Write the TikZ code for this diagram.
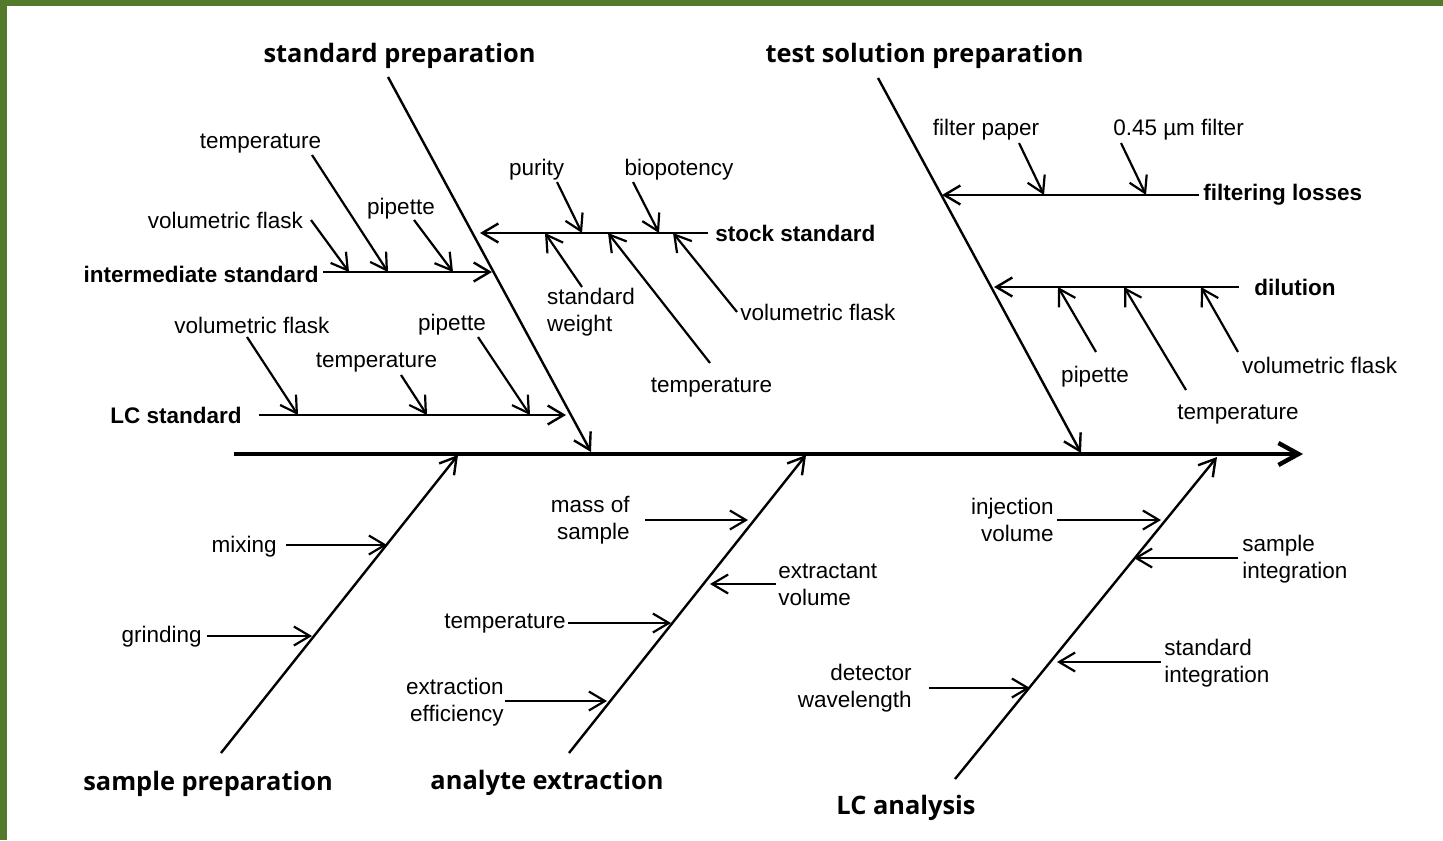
\documentclass[tikz,border=0pt]{standalone}
\usepackage{fontspec}
\setmainfont{Liberation Sans}
\newfontfamily\catfont{Open Sans}
\usetikzlibrary{arrows.meta}
\definecolor{frame}{RGB}{82,122,42}

\begin{document}
\begin{tikzpicture}[x=0.5pt,y=-0.5pt,
  lbl/.style={inner sep=0pt,yshift=-1.5pt,font=\fontsize{11.25pt}{13.5pt}\selectfont},
  sub/.style={inner sep=0pt,yshift=-1.5pt,font=\fontsize{11.25pt}{13.5pt}\selectfont\bfseries},
  cat/.style={inner sep=0pt,yshift=-1.5pt,font=\catfont\bfseries\fontsize{12.7pt}{15pt}\selectfont},
  bone/.style={line width=1.2pt,-{Straight Barb[length=8pt,width=9.5pt]}},
  twig/.style={line width=1.1pt,-{Straight Barb[length=8pt,width=9.5pt]}},
  spine/.style={line width=2.2pt,-{Straight Barb[length=10pt,width=11pt]}},
]
% page and frame
\useasboundingbox (0,0) rectangle (1443,840);
\fill[white] (0,0) rectangle (1443,840);
\fill[frame] (0,0) rectangle (1443,6);
\fill[frame] (0,0) rectangle (7,840);

% ---------- main categories ----------
\node[cat] (stdprep)  at (399.5,53) {standard preparation};
\node[cat] (testprep) at (924.5,53) {test solution preparation};
\node[cat] (sampprep) at (208,781)  {sample preparation};
\node[cat] (anaext)   at (547,780)  {analyte extraction};
\node[cat] (lcana)    at (906,805)  {LC analysis};

% ---------- spine and bones ----------
\coordinate (spA) at (234,454);
\coordinate (spB) at (1303,454);
\draw[spine] (spA) -- (spB);

\coordinate (b1s) at (388,77);   \coordinate (b1e) at (591,452);
\coordinate (b2s) at (878,78);   \coordinate (b2e) at (1081,453);
\coordinate (b3s) at (221,753);  \coordinate (b3e) at (458,455);
\coordinate (b4s) at (569,753);  \coordinate (b4e) at (806,455);
\coordinate (b5s) at (955,779);  \coordinate (b5e) at (1217,457);
\draw[bone] (b1s) -- (b1e);
\draw[bone] (b2s) -- (b2e);
\draw[bone] (b3s) -- (b3e);
\draw[bone] (b4s) -- (b4e);
\draw[bone] (b5s) -- (b5e);

% ---------- standard preparation ----------
\node[sub,anchor=east] (inter) at (319,271) {intermediate standard};
\coordinate (interA) at (323,272); \coordinate (interB) at (492,272);
\draw[bone] (interA) -- (interB);
\node[lbl] (vf1) at (225.5,217) {volumetric flask};
\node[lbl] (t1)  at (260.5,141) {temperature};
\node[lbl] (pp1) at (401,206)   {pipette};
\coordinate (vf1a) at (311,220); \coordinate (vf1b) at (349,272);
\coordinate (t1a)  at (312,155); \coordinate (t1b)  at (388,272);
\coordinate (pp1a) at (414,220); \coordinate (pp1b) at (453,272);
\draw[twig] (vf1a) -- (vf1b);
\draw[twig] (t1a) -- (t1b);
\draw[twig] (pp1a) -- (pp1b);

\node[sub,anchor=east] (lcstd) at (242,412) {LC standard};
\coordinate (lcA) at (259,415); \coordinate (lcB) at (566,415);
\draw[bone] (lcA) -- (lcB);
\node[lbl] (vf2) at (252,322)   {volumetric flask};
\node[lbl] (t2)  at (376.5,360) {temperature};
\node[lbl] (pp2) at (452,322)   {pipette};
\coordinate (vf2a) at (247,337); \coordinate (vf2b) at (298,415);
\coordinate (t2a)  at (401,375); \coordinate (t2b)  at (427,415);
\coordinate (pp2a) at (478,337); \coordinate (pp2b) at (530,415);
\draw[twig] (vf2a) -- (vf2b);
\draw[twig] (t2a) -- (t2b);
\draw[twig] (pp2a) -- (pp2b);

\node[sub,anchor=west] (stock) at (715,230) {stock standard};
\coordinate (stA) at (708,233); \coordinate (stB) at (480,233);
\draw[bone] (stA) -- (stB);
\node[lbl] (pur) at (536.5,167) {purity};
\node[lbl] (bio) at (679,167)   {biopotency};
\node[lbl,align=left] (sw) at (591,309) {standard\\weight};
\node[lbl] (t3) at (711.5,385) {temperature};
\node[lbl,anchor=west] (vf3) at (740,309) {volumetric flask};
\coordinate (pura) at (557,182); \coordinate (purb) at (582,233);
\coordinate (bioa) at (633,182); \coordinate (biob) at (659,233);
\coordinate (swa)  at (582,287); \coordinate (swb)  at (545,233);
\coordinate (t3a)  at (710,363); \coordinate (t3b)  at (608,233);
\coordinate (vf3a) at (737,312); \coordinate (vf3b) at (673,233);
\draw[twig] (pura) -- (purb);
\draw[twig] (bioa) -- (biob);
\draw[twig] (swa) -- (swb);
\draw[twig] (t3a) -- (t3b);
\draw[twig] (vf3a) -- (vf3b);

% ---------- test solution preparation ----------
\node[sub,anchor=west] (filt) at (1203,192) {filtering losses};
\coordinate (fiA) at (1199,195); \coordinate (fiB) at (942,195);
\draw[bone] (fiA) -- (fiB);
\node[lbl] (fp) at (986,127)    {filter paper};
\node[lbl] (mf) at (1178.5,127) {0.45 µm filter};
\coordinate (fpa) at (1019,143); \coordinate (fpb) at (1044,195);
\coordinate (mfa) at (1121,143); \coordinate (mfb) at (1146,195);
\draw[twig] (fpa) -- (fpb);
\draw[twig] (mfa) -- (mfb);

\node[sub] (dil) at (1295,284) {dilution};
\coordinate (diA) at (1239,287); \coordinate (diB) at (994,287);
\draw[bone] (diA) -- (diB);
\node[lbl] (pp4) at (1095,374)   {pipette};
\node[lbl] (t4)  at (1238,412)   {temperature};
\node[lbl] (vf4) at (1319.5,362) {volumetric flask};
\coordinate (pp4a) at (1096,352); \coordinate (pp4b) at (1058,287);
\coordinate (t4a)  at (1186,390); \coordinate (t4b)  at (1124,287);
\coordinate (vf4a) at (1238,352); \coordinate (vf4b) at (1201,287);
\draw[twig] (pp4a) -- (pp4b);
\draw[twig] (t4a) -- (t4b);
\draw[twig] (vf4a) -- (vf4b);

% ---------- sample preparation ----------
\node[lbl,anchor=east] (mix)   at (277,544) {mixing};
\node[lbl,anchor=east] (grind) at (202,634) {grinding};
\coordinate (mixa) at (286,545); \coordinate (mixb) at (387,545);
\coordinate (gra)  at (207,636); \coordinate (grb)  at (312,636);
\draw[twig] (mixa) -- (mixb);
\draw[twig] (gra) -- (grb);

% ---------- analyte extraction ----------
\node[lbl,align=right,anchor=east] (mass) at (630,517.5) {mass of\\sample};
\node[lbl,align=left,anchor=west]  (extv) at (778,581.5) {extractant\\volume};
\node[lbl,anchor=east] (t5) at (566,621) {temperature};
\node[lbl,align=right,anchor=east] (eff) at (504,699.5) {extraction\\efficiency};
\coordinate (masa) at (645,520); \coordinate (masb) at (748,520);
\coordinate (exta) at (776,584); \coordinate (extb) at (710,584);
\coordinate (t5a)  at (568,623); \coordinate (t5b)  at (671,623);
\coordinate (effa) at (505,701); \coordinate (effb) at (607,701);
\draw[twig] (masa) -- (masb);
\draw[twig] (exta) -- (extb);
\draw[twig] (t5a) -- (t5b);
\draw[twig] (effa) -- (effb);

% ---------- LC analysis ----------
\node[lbl,align=right,anchor=east] (inj)   at (1054,517)   {injection\\volume};
\node[lbl,align=left,anchor=west]  (sint)  at (1242,556.5) {sample\\integration};
\node[lbl,align=left,anchor=west]  (stint) at (1164,660)   {standard\\integration};
\node[lbl,align=right,anchor=east] (det)   at (912,685)    {detector\\wavelength};
\coordinate (inja) at (1057,520); \coordinate (injb) at (1161,520);
\coordinate (sia)  at (1238,558); \coordinate (sib)  at (1134,558);
\coordinate (sta)  at (1161,662); \coordinate (stb)  at (1057,662);
\coordinate (deta) at (929,688);  \coordinate (detb) at (1030,688);
\draw[twig] (inja) -- (injb);
\draw[twig] (sia) -- (sib);
\draw[twig] (sta) -- (stb);
\draw[twig] (deta) -- (detb);
\end{tikzpicture}
\end{document}
